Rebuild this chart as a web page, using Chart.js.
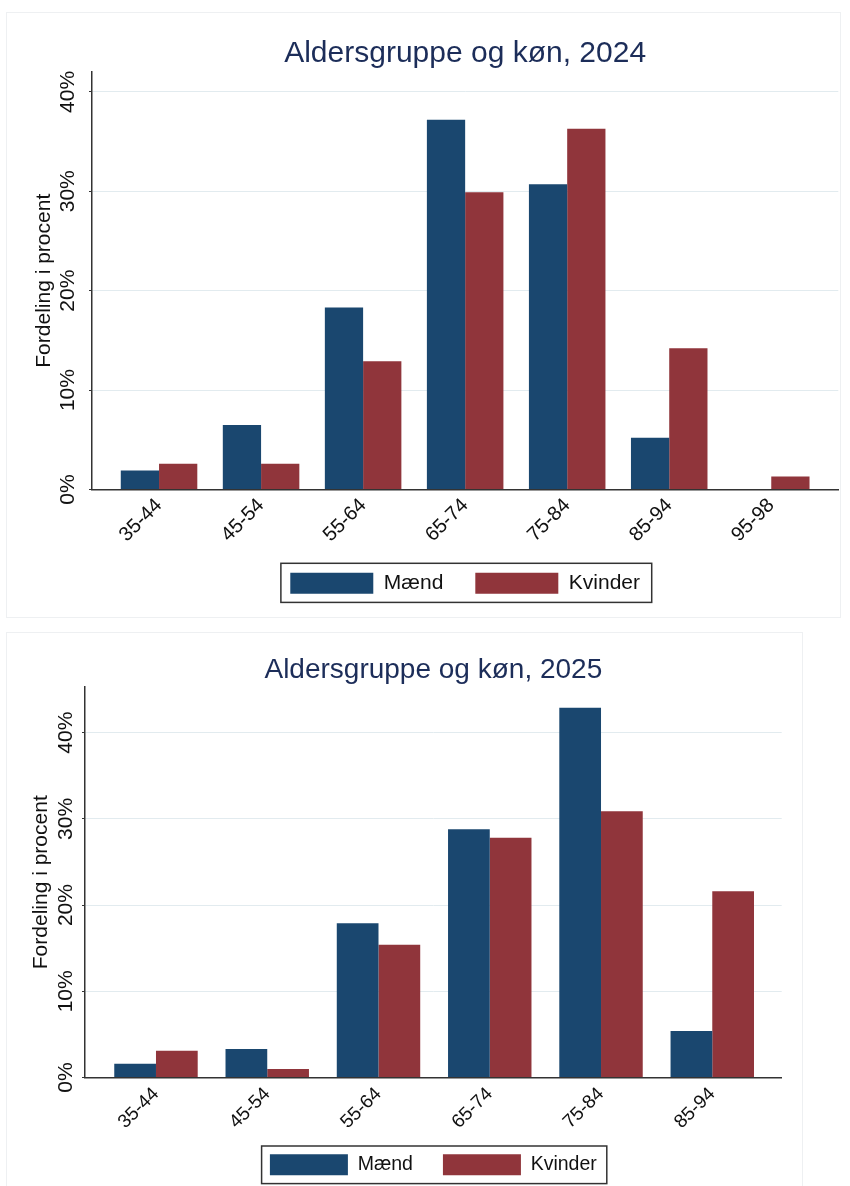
<!DOCTYPE html>
<html><head><meta charset="utf-8">
<script src="https://cdn.jsdelivr.net/npm/chart.js@4.4.1/dist/chart.umd.min.js"></script>
<style>
html,body{margin:0;padding:0;background:#fff;}
#wrap{position:relative;width:850px;height:1186px;overflow:hidden;background:#fff;}
.frame{position:absolute;border:1px solid #eef0f2;box-sizing:border-box;}
canvas{position:absolute;left:0;}
</style></head><body>
<div id="wrap">
<div class="frame" style="left:6px;top:12px;width:835px;height:606px"></div>
<div class="frame" style="left:6px;top:632px;width:797px;height:560px"></div>
<canvas id="c1" width="850" height="620" style="top:0"></canvas>
<canvas id="c2" width="850" height="566" style="top:620px"></canvas>
</div>
<script>
// ---- data ----
const categories2024 = ['35-44', '45-54', '55-64', '65-74', '75-84', '85-94', '95-98'];
const maend2024 = [1.9, 6.5, 18.3, 37.2, 30.7, 5.2, 0];
const kvinder2024 = [2.6, 2.6, 12.9, 29.9, 36.3, 14.2, 1.3];

const categories2025 = ['35-44', '45-54', '55-64', '65-74', '75-84', '85-94'];
const maend2025 = [1.6, 3.3, 17.9, 28.8, 42.9, 5.4];
const kvinder2025 = [3.1, 1.0, 15.4, 27.8, 30.9, 21.6];

const yTickValues = [0, 10, 20, 30, 40];
const seriesNames = ['Mænd', 'Kvinder'];
const title2024 = 'Aldersgruppe og køn, 2024';
const title2025 = 'Aldersgruppe og køn, 2025';
const yAxisTitle = 'Fordeling i procent';

// ---- style ----
const BLUE = '#1a476f';
const RED = '#90353b';
const NAVY = '#1c2d59';
const GRID = '#e2ebef';
const AXIS = '#333333';
const TEXT = '#111111';
Chart.defaults.font.family = '"Liberation Sans", Arial, Helvetica, sans-serif';

const legendFrame = {
  id: 'legendFrame',
  afterDraw(chart, args, o) {
    const hb = chart.legend && chart.legend.legendHitBoxes;
    if (!hb || !hb.length) return;
    const l = Math.min(...hb.map(h => h.left)) - o.l;
    const r = Math.max(...hb.map(h => h.left + h.width)) + o.r;
    const t = Math.min(...hb.map(h => h.top)) - o.t;
    const b = Math.max(...hb.map(h => h.top + h.height)) + o.b;
    const ctx = chart.ctx;
    ctx.save();
    ctx.strokeStyle = AXIS;
    ctx.lineWidth = 1.5;
    ctx.strokeRect(l, t, r - l, b - t);
    ctx.restore();
  }
};

// let the rotated x labels run past the axis box (they overlap the legend gap in the reference)
const unclipX = {
  id: 'unclipX',
  afterLayout(chart) {
    const x = chart.scales.x;
    if (x) x.bottom = chart.height;
  }
};

function build(id, p) {
  return new Chart(document.getElementById(id), {
    type: 'bar',
    data: {
      datasets: [
        { label: seriesNames[0], data: p.m.map((v, i) => ({ x: i, y: v })), backgroundColor: BLUE, borderWidth: 0 },
        { label: seriesNames[1], data: p.k.map((v, i) => ({ x: i, y: v })), backgroundColor: RED, borderWidth: 0 }
      ]
    },
    options: {
      responsive: false,
      animation: false,
      layout: { padding: p.pad },
      datasets: { bar: { categoryPercentage: 0.75, barPercentage: 1 } },
      plugins: {
        title: {
          display: true, text: p.title, fullSize: false, color: NAVY,
          font: { size: p.titleSize, weight: 'normal' },
          padding: { top: p.titlePadTop, bottom: 0 }
        },
        legend: {
          position: 'bottom', fullSize: false,
          labels: { boxWidth: p.boxW, boxHeight: 21, padding: p.legPad, color: TEXT, font: { size: p.legFs } }
        },
        tooltip: { enabled: false },
        legendFrame: p.frame
      },
      scales: {
        x: {
          type: 'linear', min: p.xmin, max: p.xmax, offset: false,
          grid: { display: false, drawTicks: false, offset: false },
          border: { display: true, color: AXIS, width: 1.5 },
          afterBuildTicks: s => { s.ticks = p.cats.map((_, i) => ({ value: i })); },
          afterFit: s => { s.height = p.xh; },
          ticks: {
            autoSkip: false, minRotation: 45, maxRotation: 45, padding: p.xtp,
            color: TEXT, font: { size: p.xfs },
            callback: v => p.cats[v]
          }
        },
        y: {
          min: 0, max: p.ymax,
          grid: { color: GRID, lineWidth: 1, drawTicks: true, tickLength: 3, tickColor: AXIS, tickWidth: 1.2 },
          border: { display: true, color: AXIS, width: 1.5 },
          afterBuildTicks: s => { s.ticks = yTickValues.map(v => ({ value: v })); },
          afterFit: s => { s.width = p.yw; },
          ticks: {
            minRotation: 90, maxRotation: 90, crossAlign: 'center', padding: p.ytp,
            color: TEXT, font: { size: 21 },
            callback: v => v + '%'
          },
          title: {
            display: true, text: yAxisTitle, color: TEXT, font: { size: 21 },
            padding: { top: p.ytitlePad, bottom: 0 }
          }
        }
      }
    },
    plugins: [legendFrame, unclipX]
  });
}

build('c1', {
  cats: categories2024, m: maend2024, k: kvinder2024, title: title2024,
  pad: { left: 20, right: 11.7, top: 0, bottom: 16.3 },
  titleSize: 30, titlePadTop: 36,
  boxW: 83, legPad: 32, legFs: 21,
  xmin: -0.657, xmax: 6.657, xh: 51.2, xtp: 4.3, xfs: 20,
  ymax: 42, yw: 72, ytp: 0, ytitlePad: 12,
  frame: { l: 9.4, r: 11.7, t: 9.4, b: 8.7 }
});

build('c2', {
  cats: categories2025, m: maend2025, k: kvinder2025, title: title2025,
  pad: { left: 20, right: 68.3, top: 0, bottom: 0.7 },
  titleSize: 28, titlePadTop: 33.4,
  boxW: 78, legPad: 30, legFs: 19.5,
  xmin: -0.638, xmax: 5.624, xh: 46.8, xtp: 5.5, xfs: 19,
  ymax: 45.3, yw: 65, ytp: -5, ytitlePad: 8.7,
  frame: { l: 8.3, r: 10, t: 8.3, b: 8.3 }
});
</script>
</body></html>
